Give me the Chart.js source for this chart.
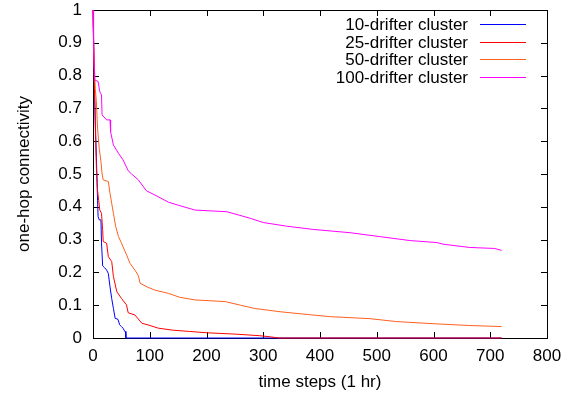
<!DOCTYPE html>
<html>
<head>
<meta charset="utf-8">
<script src="https://cdn.jsdelivr.net/npm/chart.js@4"></script>
<style>
  body { margin: 0; background: #fff; }
</style>
</head>
<body>
<canvas id="chart" width="570" height="397"></canvas>
<script>
'use strict';

// time step (hr) -> one-hop connectivity
let t10 = [0, 2, 4, 6, 8, 9, 11, 14, 15, 17, 20, 24, 27, 30, 33, 36, 39, 44, 47, 50, 53, 56, 57, 58, 720];
let v10 = [1.0, 0.82, 0.66, 0.55, 0.42, 0.37, 0.36, 0.36, 0.29, 0.22, 0.215, 0.207, 0.197, 0.156, 0.12, 0.09, 0.06, 0.057, 0.04, 0.035, 0.03, 0.02, 0.02, 0, 0];

let t25 = [0, 2, 4, 6, 8, 10, 12, 15, 17, 18, 24, 27, 33, 36, 42, 50, 59, 62, 74, 86, 97, 115, 140, 170, 200, 224, 250, 294, 315, 328, 720];
let v25 = [1.0, 0.8, 0.65, 0.52, 0.45, 0.42, 0.39, 0.38, 0.33, 0.294, 0.289, 0.248, 0.233, 0.187, 0.141, 0.121, 0.101, 0.077, 0.07, 0.045, 0.04, 0.03, 0.024, 0.02, 0.016, 0.014, 0.012, 0.007, 0.003, 0, 0];

let t50 = [0, 2, 4, 6, 8, 11, 14, 16, 18, 27, 30, 33, 36, 40, 45, 50, 53, 60, 65, 74, 80, 83, 95, 109, 133, 153, 180, 233, 260, 285, 330, 382, 418, 488, 535, 606, 664, 720];
let v50 = [1.0, 0.85, 0.76, 0.72, 0.64, 0.578, 0.538, 0.5, 0.482, 0.477, 0.441, 0.41, 0.38, 0.34, 0.309, 0.29, 0.278, 0.25, 0.228, 0.207, 0.19, 0.167, 0.156, 0.146, 0.136, 0.124, 0.116, 0.111, 0.1, 0.09, 0.08, 0.071, 0.065, 0.059, 0.05, 0.043, 0.038, 0.035];

let t100 = [0, 1, 3, 9, 12, 15, 16, 24, 30, 31, 36, 45, 53, 62, 68, 80, 94, 109, 133, 150, 180, 236, 277, 300, 341, 388, 453, 506, 559, 606, 617, 664, 708, 720];
let v100 = [1.0, 0.9, 0.787, 0.782, 0.751, 0.741, 0.68, 0.665, 0.665, 0.629, 0.588, 0.563, 0.543, 0.51, 0.5, 0.482, 0.449, 0.436, 0.414, 0.405, 0.39, 0.385, 0.365, 0.352, 0.341, 0.331, 0.321, 0.309, 0.297, 0.291, 0.286, 0.276, 0.273, 0.267];

let seriesNames = ['10-drifter cluster', '25-drifter cluster', '50-drifter cluster', '100-drifter cluster'];
let seriesColors = ['#0000ff', '#ff0000', '#ff6020', '#ff00ff'];

let xTicks = [0, 100, 200, 300, 400, 500, 600, 700, 800];
let yTicks = [0, 0.1, 0.2, 0.3, 0.4, 0.5, 0.6, 0.7, 0.8, 0.9, 1];

const FONT = '"Liberation Sans", Arial, sans-serif';

function toPoints(ts, vs) {
    let pts = [];
    for (let i = 0; i < ts.length; i++) {
        pts.push({x: ts[i], y: vs[i]});
    }
    return pts;
}

// gnuplot style frame: box plus inward ticks on all four sides, under the curves
const framePlugin = {
    id: 'frame',
    beforeDatasetsDraw(chart) {
        const ctx = chart.ctx;
        const a = chart.chartArea;
        const xs = chart.scales.x;
        const ys = chart.scales.y;
        const len = 6;
        ctx.save();
        ctx.strokeStyle = '#000';
        ctx.lineWidth = 1;
        ctx.beginPath();
        xTicks.forEach(v => {
            const px = Math.round(xs.getPixelForValue(v)) + 0.5;
            ctx.moveTo(px, a.bottom); ctx.lineTo(px, a.bottom - len);
            ctx.moveTo(px, a.top); ctx.lineTo(px, a.top + len);
        });
        yTicks.forEach(v => {
            const py = Math.round(ys.getPixelForValue(v)) + 0.5;
            ctx.moveTo(a.left, py); ctx.lineTo(a.left + len, py);
            ctx.moveTo(a.right, py); ctx.lineTo(a.right - len, py);
        });
        ctx.stroke();
        ctx.strokeRect(Math.round(a.left) + 0.5, Math.round(a.top) + 0.5,
            Math.round(a.right - a.left), Math.round(a.bottom - a.top));
        ctx.restore();
    }
};

// key in the top right corner, text to the left of the line sample
const keyPlugin = {
    id: 'key',
    afterDraw(chart) {
        const ctx = chart.ctx;
        const a = chart.chartArea;
        ctx.save();
        ctx.font = '17px ' + FONT;
        ctx.textAlign = 'right';
        ctx.textBaseline = 'middle';
        for (let i = 0; i < seriesNames.length; i++) {
            const y = Math.round(a.top + 14 + i * 17.5) + 0.5;
            ctx.fillStyle = '#000';
            ctx.fillText(seriesNames[i], a.right - 79, y + 1);
            ctx.beginPath();
            ctx.strokeStyle = seriesColors[i];
            ctx.lineWidth = 1;
            ctx.moveTo(a.right - 67, y);
            ctx.lineTo(a.right - 21, y);
            ctx.stroke();
        }
        ctx.restore();
    }
};

function renderChart() {
    let allT = [t10, t25, t50, t100];
    let allV = [v10, v25, v50, v100];
    let datasets = [];
    for (let i = 0; i < seriesNames.length; i++) {
        datasets.push({
            label: seriesNames[i],
            data: toPoints(allT[i], allV[i]),
            borderColor: seriesColors[i],
            borderWidth: 1,
            pointRadius: 0,
            tension: 0,
            fill: false,
            clip: false,
            order: seriesNames.length - i
        });
    }

    new Chart(document.getElementById('chart'), {
        type: 'line',
        data: { datasets: datasets },
        plugins: [framePlugin, keyPlugin],
        options: {
            responsive: false,
            animation: false,
            devicePixelRatio: 1,
            layout: { padding: { top: 10, right: 23, left: 0, bottom: 0 } },
            plugins: {
                legend: { display: false },
                tooltip: { enabled: false }
            },
            scales: {
                x: {
                    type: 'linear',
                    min: 0,
                    max: 800,
                    afterBuildTicks: s => { s.ticks = xTicks.map(v => ({value: v})); },
                    afterFit: s => { s.height = 59; s.paddingLeft = 0; s.paddingRight = 0; },
                    grid: { display: false, drawTicks: false },
                    border: { display: false },
                    ticks: { color: '#000', padding: 8, maxRotation: 0, font: { family: FONT, size: 17 } },
                    title: {
                        display: true,
                        text: 'time steps (1 hr)',
                        color: '#000',
                        padding: { top: 0, bottom: 4 },
                        font: { family: FONT, size: 17 }
                    }
                },
                y: {
                    min: 0,
                    max: 1,
                    afterBuildTicks: s => { s.ticks = yTicks.map(v => ({value: v})); },
                    afterFit: s => { s.width = 93; s.paddingTop = 0; s.paddingBottom = 0; },
                    grid: { display: false, drawTicks: false },
                    border: { display: false },
                    ticks: {
                        color: '#000',
                        padding: 11,
                        font: { family: FONT, size: 17 },
                        callback: v => String(Number(v.toFixed(1)))
                    },
                    title: {
                        display: true,
                        text: 'one-hop connectivity',
                        color: '#000',
                        padding: { top: 14, bottom: 0 },
                        font: { family: FONT, size: 17 }
                    }
                }
            }
        }
    });
}

renderChart();
</script>
</body>
</html>
